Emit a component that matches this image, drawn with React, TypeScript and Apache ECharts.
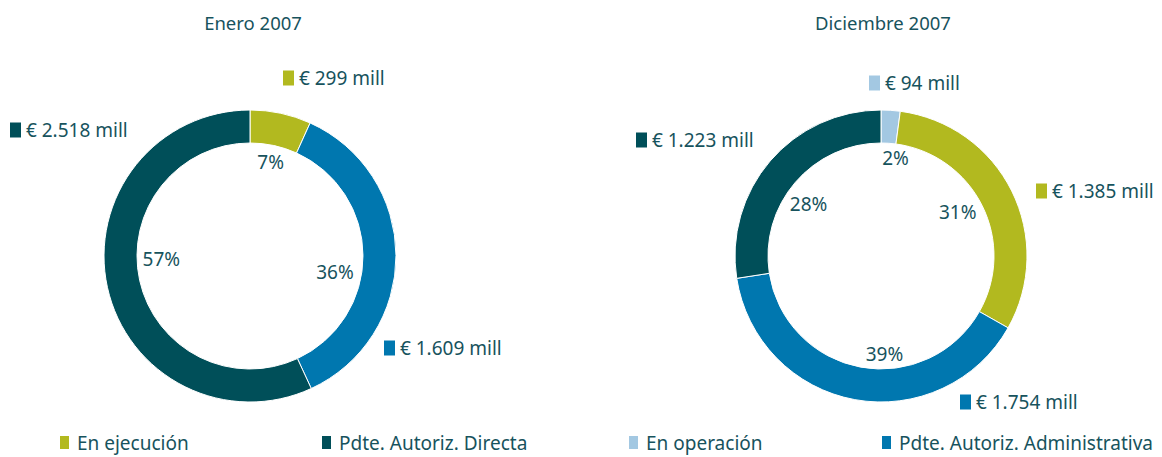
import React, { useEffect, useRef } from "react";
import * as echarts from "echarts";

const TEXT = "#17535d";
const FONT = "Noto Sans";

const COLORS: Record<string, string> = {
  "En ejecución": "#b2b91f",
  "Pdte. Autoriz. Administrativa": "#0077af",
  "Pdte. Autoriz. Directa": "#004f59",
  "En operación": "#a3c8e2",
};

const eneroTitle = "Enero 2007";
const eneroNames = ["En ejecución", "Pdte. Autoriz. Administrativa", "Pdte. Autoriz. Directa"];
const eneroValues = [299, 1609, 2518];
const eneroPct = [7, 36, 57];

const dicTitle = "Diciembre 2007";
const dicNames = ["En operación", "En ejecución", "Pdte. Autoriz. Administrativa", "Pdte. Autoriz. Directa"];
const dicValues = [94, 1385, 1754, 1223];
const dicPct = [2, 31, 39, 28];

const legendNames = ["En ejecución", "Pdte. Autoriz. Directa", "En operación", "Pdte. Autoriz. Administrativa"];

// layout (not data)
const LEGEND_LEFT = [58, 320, 627, 880];
const ENERO_LABEL_POS = [[283, 78], [384, 348], [10, 130]];
const DIC_LABEL_POS = [[869, 83], [1036, 191], [960, 402], [636, 140]];
const ENERO_PCT_SHIFT = [[0, 2], [-13, 16], [7, -18]];
const DIC_PCT_SHIFT = [[8, 0], [-11, 0], [21, 2], [2, 12]];
const ENERO_CENTER = [250, 256];
const DIC_CENTER = [881, 256];
const RING = [113, 146];

const fmt = (n: number) => String(n).replace(/\B(?=(\d{3})+(?!\d))/g, ".");

const richKeys: Record<string, string> = {
  "En ejecución": "c0",
  "Pdte. Autoriz. Administrativa": "c1",
  "Pdte. Autoriz. Directa": "c2",
  "En operación": "c3",
};

const rich: any = {
  t: { fontFamily: FONT, fontSize: 19, color: TEXT },
};
Object.keys(richKeys).forEach((n) => {
  rich[richKeys[n]] = { width: 11, height: 15, backgroundColor: COLORS[n] };
});

function donut(
  names: string[],
  values: number[],
  pct: number[],
  center: number[],
  pos: number[][],
  shift: number[][]
) {
  const data = names.map((n, i) => ({ name: n, value: values[i], itemStyle: { color: COLORS[n] } }));
  return [
    {
      type: "pie",
      center,
      radius: RING,
      startAngle: 90,
      clockwise: true,
      silent: true,
      avoidLabelOverlap: false,
      itemStyle: { borderColor: "#fff", borderWidth: 1 },
      label: {
        show: true,
        position: "outside",
        formatter: (p: any) => `{${richKeys[p.name]}|}{t| € ${fmt(p.value)} mill}`,
        rich,
      },
      labelLine: { show: false },
      labelLayout: (p: any) => ({
        x: pos[p.dataIndex][0],
        y: pos[p.dataIndex][1],
        align: "left",
        verticalAlign: "middle",
      }),
      data,
    },
    {
      type: "pie",
      center,
      radius: [77, RING[0]],
      startAngle: 90,
      clockwise: true,
      silent: true,
      avoidLabelOverlap: false,
      itemStyle: { color: "rgba(0,0,0,0)" },
      label: {
        show: true,
        position: "inside",
        formatter: (p: any) => `${pct[p.dataIndex]}%`,
        fontFamily: FONT,
        fontSize: 19,
        color: TEXT,
      },
      labelLine: { show: false },
      labelLayout: (p: any) => ({
        dx: shift[p.dataIndex][0],
        dy: shift[p.dataIndex][1],
      }),
      data: names.map((n, i) => ({ name: n, value: values[i] })),
    },
  ];
}

export default function App() {
  const ref = useRef<HTMLDivElement>(null);
  useEffect(() => {
    if (!ref.current) return;
    const chart = echarts.init(ref.current, null, { renderer: "svg" });
    chart.setOption({
      animation: false,
      textStyle: { fontFamily: FONT },
      graphic: [
        {
          type: "text",
          x: 253,
          y: 22,
          style: { text: eneroTitle, fill: TEXT, font: `18.5px "${FONT}"`, textAlign: "center", textVerticalAlign: "middle" },
        },
        {
          type: "text",
          x: 883,
          y: 22,
          style: { text: dicTitle, fill: TEXT, font: `18.5px "${FONT}"`, textAlign: "center", textVerticalAlign: "middle" },
        },
      ],
      legend: legendNames.map((n, i) => ({
        data: [{ name: n, itemStyle: { color: COLORS[n] } }],
        left: LEGEND_LEFT[i],
        top: 433,
        padding: 0,
        icon: "rect",
        itemWidth: 11,
        itemHeight: 15,
        itemGap: 10,
        selectedMode: false,
        textStyle: { fontFamily: FONT, fontSize: 19, color: TEXT, padding: [0, 0, 0, 2] },
      })),
      series: [
        ...donut(eneroNames, eneroValues, eneroPct, ENERO_CENTER, ENERO_LABEL_POS, ENERO_PCT_SHIFT),
        ...donut(dicNames, dicValues, dicPct, DIC_CENTER, DIC_LABEL_POS, DIC_PCT_SHIFT),
      ],
    });
    return () => chart.dispose();
  }, []);
  return (
    <div
      ref={ref}
      style={{ position: "fixed", left: 0, top: 0, width: 1162, height: 457, background: "#fff" }}
    />
  );
}
